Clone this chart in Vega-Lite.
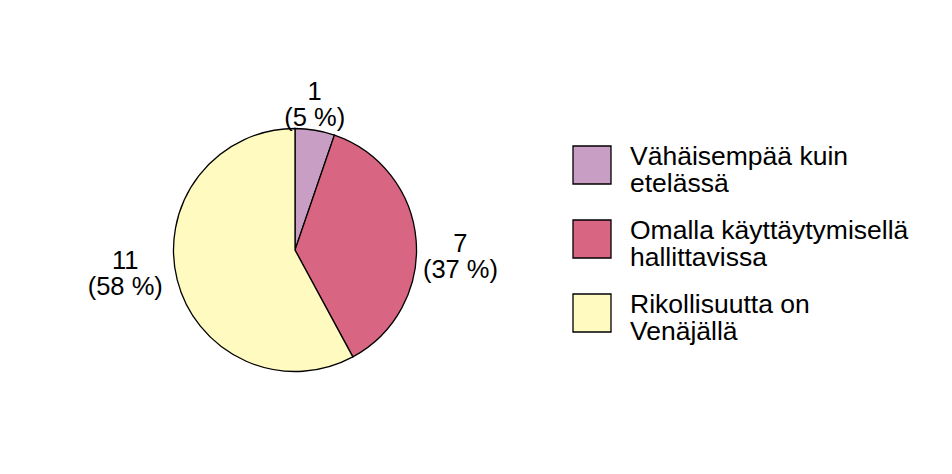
{
  "$schema": "https://vega.github.io/schema/vega-lite/v6.json",
  "width": 574,
  "height": 480,
  "autosize": {"type": "none"},
  "padding": {"left": 8, "top": 10, "right": 370, "bottom": 0},
  "background": "white",
  "config": {
    "view": {"stroke": null},
    "font": "Liberation Sans",
    "text": {"font": "Liberation Sans", "color": "black"},
    "style": {"guide-label": {"lineHeight": 27}}
  },
  "data": {
    "values": [
      {"cat": "Vähäisempää kuin|etelässä", "n": 1, "label": "1\n(5 %)", "order": 1},
      {"cat": "Omalla käyttäytymisellä|hallittavissa", "n": 7, "label": "7\n(37 %)", "order": 2},
      {"cat": "Rikollisuutta on|Venäjällä", "n": 11, "label": "11\n(58 %)", "order": 3}
    ]
  },
  "encoding": {
    "theta": {"field": "n", "type": "quantitative", "stack": true},
    "order": {"field": "order", "type": "quantitative"}
  },
  "layer": [
    {
      "mark": {"type": "arc", "outerRadius": 121.5, "stroke": "black", "strokeWidth": 1.3},
      "encoding": {
        "color": {
          "field": "cat",
          "type": "nominal",
          "scale": {
            "domain": ["Vähäisempää kuin|etelässä", "Omalla käyttäytymisellä|hallittavissa", "Rikollisuutta on|Venäjällä"],
            "range": ["#C99EC4", "#D86682", "#FFFAC0"]
          },
          "legend": {
            "title": null,
            "orient": "none",
            "legendX": 564,
            "legendY": 135,
            "padding": 0,
            "symbolType": "square",
            "symbolSize": 1444,
            "symbolStrokeColor": "black",
            "symbolStrokeWidth": 1.3,
            "symbolOpacity": 1,
            "labelFont": "Liberation Sans",
            "labelFontSize": 26.5,
            "labelColor": "black",
            "labelLimit": 400,
            "labelOffset": 18,
            "labelBaseline": "alphabetic",
            "rowPadding": 19,
            "labelExpr": "split(datum.label, '|')"
          }
        }
      }
    },
    {
      "mark": {"type": "text", "radius": 150, "fontSize": 25.5, "lineBreak": "\n", "lineHeight": 26, "align": "center", "baseline": "middle", "dx": -5, "dy": -10},
      "encoding": {"text": {"condition": {"test": "datum.order == 1", "field": "label", "type": "nominal"}, "value": ""}}
    },
    {
      "mark": {"type": "text", "radius": 166, "fontSize": 25.5, "lineBreak": "\n", "lineHeight": 26, "align": "center", "baseline": "middle", "dx": 0, "dy": 8},
      "encoding": {"text": {"condition": {"test": "datum.order == 2", "field": "label", "type": "nominal"}, "value": ""}}
    },
    {
      "mark": {"type": "text", "radius": 171, "fontSize": 25.5, "lineBreak": "\n", "lineHeight": 26, "align": "center", "baseline": "middle", "dx": -4, "dy": -31},
      "encoding": {"text": {"condition": {"test": "datum.order == 3", "field": "label", "type": "nominal"}, "value": ""}}
    }
  ]
}
